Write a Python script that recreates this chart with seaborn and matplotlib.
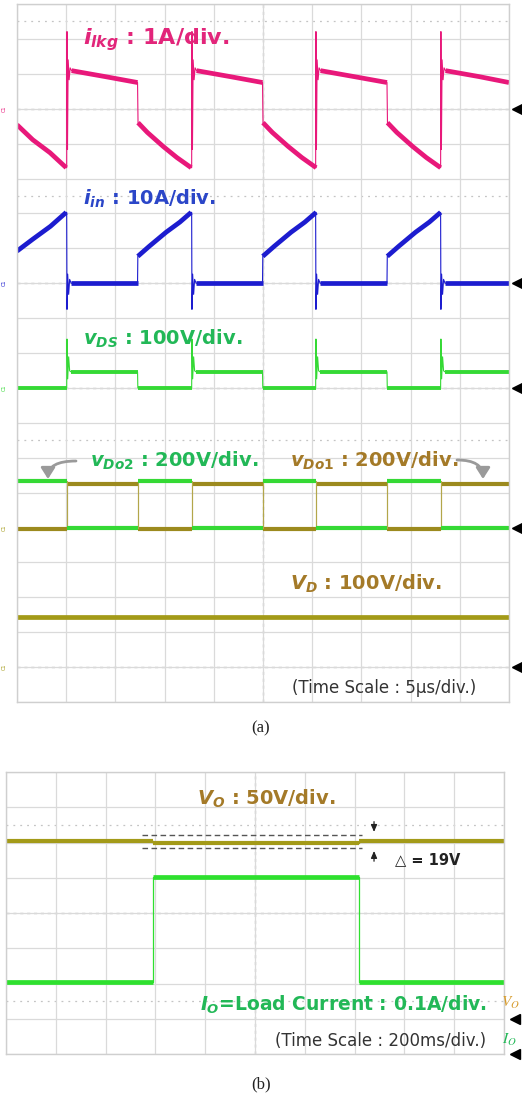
import matplotlib
matplotlib.use("Agg")
import matplotlib.pyplot as plt
import pandas as pd
import seaborn as sns

sns.set_theme(style="white")
plt.rcParams["font.family"] = ["DejaVu Sans"]
plt.rcParams["mathtext.fontset"] = "custom"
plt.rcParams["mathtext.it"] = "DejaVu Sans:italic:bold"
plt.rcParams["mathtext.rm"] = "DejaVu Sans:bold"
plt.rcParams["mathtext.bf"] = "DejaVu Sans:bold"

# ---------------- panel (a) data (5 us/div) ----------------
T_DIV_US = 5.0
T_END_US = 50.0
ZERO_A = {"ilkg": 17, "iin": 12, "vds": 9, "vdo": 5, "vd": 1}      # channel ground (div)
SCALE_A = {"ilkg": 1.0, "iin": 10.0, "vds": 100.0, "vdo": 200.0, "vd": 100.0}  # units/div

RISE_US = [5.05, 17.75, 30.35, 43.05]
FALL_US = [12.25, 24.95, 37.6]

# leakage current i_lkg (A)
ILKG_START_T = [0.0, 1.6, 3.35, 5.0]
ILKG_START_A = [-0.46, -0.89, -1.26, -1.69]
ILKG_SPIKE_DT = [0.0, 0.03, 0.08, 0.15, 0.25, 0.35, 0.5]
ILKG_SPIKE_A = [-1.69, 2.21, -1.17, 1.40, 0.83, 1.17, 1.09]
ILKG_HIGH_DT = [0.5, 3.9]
ILKG_HIGH_A = [1.09, 0.92, 0.75]
ILKG_LOW_DT = [0.05, 1.0, 2.6, 4.0, 5.45]
ILKG_LOW_A = [-0.40, -0.68, -1.08, -1.40, -1.69]

# input current i_in (A)
IIN_START_T = [0.0, 1.6, 3.4, 5.0]
IIN_START_A = [9.2, 12.6, 16.3, 20.3]
IIN_DROP_DT = [0.0, 0.03, 0.1, 0.2, 0.3, 0.45]
IIN_DROP_A = [20.3, -7.5, 2.6, -3.2, 1.1, 0.0]
IIN_RAMP_DT = [0.0, 0.03, 1.2, 2.9, 4.3, 5.45]
IIN_RAMP_A = [0.0, 7.7, 10.6, 14.6, 17.5, 20.3]

# switch voltage v_DS (V)
VDS_SPIKE_DT = [0.0, 0.03, 0.1, 0.2, 0.3, 0.45]
VDS_SPIKE_V = [0.0, 140.0, 26.0, 89.0, 49.0, 46.0]
VDS_HIGH_V = 46.0
VDS_LOW_V = 0.0

# output diode voltages (V)
VDO2_LEVELS_V = [264.0, 0.0]   # high, low (high first)
VDO1_LEVELS_V = [-8.0, 248.0]  # low first, then high
VD_V = 143.0

# ---------------- panel (b) data (200 ms/div) ----------------
T_DIV_MS = 200.0
T_END_MS = 2000.0
STEP_MS = [590.0, 1418.0]
VO_LEVELS_V = [252.5, 249.6, 252.5]
IO_LEVELS_A = [0.204, 0.502, 0.204]
VO_CURSOR_V = [261.0, 242.0]
VO_CURSOR_MS = [546.0, 1430.0]
DELTA_MS = 1478.0
ZERO_B = {"vo": 1, "io": 0}
SCALE_B = {"vo": 50.0, "io": 0.1}

# ---------------- colours ----------------
C_ILKG, T_ILKG = "#e8187a", "#e2257a"
C_IIN, T_IIN = "#1c1ccf", "#2b46c8"
C_GREEN, T_GREEN = "#35d935", "#22b857"
C_OLIVE = "#a39a18"
C_BROWN_TR = "#9c8a1e"
T_BROWN = "#a47a28"
GRID = "#dadada"

W, H = 522, 1097
fig = plt.figure(figsize=(W / 100, H / 100), dpi=100)
fig.patch.set_facecolor("white")


def P(x, y):
    return (x / W, 1 - y / H)


axA = fig.add_axes([17 / W, 1 - 702 / H, 492 / W, 698 / H])
axB = fig.add_axes([6 / W, 1 - 1054 / H, 498 / W, 282 / H])


def df_from(segs, zero, scale, tdiv):
    rows = []
    for k, (t, v) in enumerate(segs):
        for ti, vi in zip(t, v):
            rows.append((ti / tdiv, zero + vi / scale, k))
    return pd.DataFrame(rows, columns=["x", "y", "seg"])


def draw(ax, segs, zero, scale, tdiv, color, lw):
    d = df_from(segs, zero, scale, tdiv)
    sns.lineplot(data=d, x="x", y="y", units="seg", estimator=None, sort=False,
                 color=color, lw=lw, ax=ax, legend=False, solid_capstyle="butt")


def nxt_fall(i):
    return FALL_US[i] if i < len(FALL_US) else T_END_US


def nxt_rise(i):
    return RISE_US[i + 1] if i + 1 < len(RISE_US) else T_END_US


# ---- i_lkg ----
full_t, full_v = list(ILKG_START_T), list(ILKG_START_A)
band = [(ILKG_START_T, ILKG_START_A)]
for i, r in enumerate(RISE_US):
    st = [r + d for d in ILKG_SPIKE_DT]
    ht = [r + ILKG_HIGH_DT[0], r + ILKG_HIGH_DT[1], nxt_fall(i)]
    full_t += st + ht
    full_v += ILKG_SPIKE_A + ILKG_HIGH_A
    band.append((ht, ILKG_HIGH_A))
    if i < len(FALL_US):
        lt = [FALL_US[i] + d for d in ILKG_LOW_DT]
        full_t += lt
        full_v += ILKG_LOW_A
        band.append((lt, ILKG_LOW_A))
draw(axA, [(full_t, full_v)], ZERO_A["ilkg"], SCALE_A["ilkg"], T_DIV_US, C_ILKG, 0.8)
draw(axA, band, ZERO_A["ilkg"], SCALE_A["ilkg"], T_DIV_US, C_ILKG, 3.4)

# ---- i_in ----
full_t, full_v = list(IIN_START_T), list(IIN_START_A)
band = [(IIN_START_T, IIN_START_A)]
for i, r in enumerate(RISE_US):
    dt = [r + d for d in IIN_DROP_DT]
    bt = [r + IIN_DROP_DT[-1], nxt_fall(i)]
    full_t += dt + bt
    full_v += IIN_DROP_A + [0.0, 0.0]
    band.append((bt, [0.0, 0.0]))
    if i < len(FALL_US):
        rt = [FALL_US[i] + d for d in IIN_RAMP_DT]
        full_t += rt
        full_v += IIN_RAMP_A
        band.append((rt[1:], IIN_RAMP_A[1:]))
draw(axA, [(full_t, full_v)], ZERO_A["iin"], SCALE_A["iin"], T_DIV_US, C_IIN, 0.8)
draw(axA, band, ZERO_A["iin"], SCALE_A["iin"], T_DIV_US, C_IIN, 3.4)

# ---- v_DS ----
full_t, full_v = [0.0, RISE_US[0]], [VDS_LOW_V, VDS_LOW_V]
band = [([0.0, RISE_US[0]], [VDS_LOW_V, VDS_LOW_V])]
for i, r in enumerate(RISE_US):
    stt = [r + d for d in VDS_SPIKE_DT]
    ht = [r + VDS_SPIKE_DT[-1], nxt_fall(i)]
    full_t += stt + ht
    full_v += VDS_SPIKE_V + [VDS_HIGH_V, VDS_HIGH_V]
    band.append((ht, [VDS_HIGH_V, VDS_HIGH_V]))
    if i < len(FALL_US):
        lt = [FALL_US[i] + 0.03, nxt_rise(i)]
        full_t += lt
        full_v += [VDS_LOW_V, VDS_LOW_V]
        band.append((lt, [VDS_LOW_V, VDS_LOW_V]))
draw(axA, [(full_t, full_v)], ZERO_A["vds"], SCALE_A["vds"], T_DIV_US, C_GREEN, 0.8)
draw(axA, band, ZERO_A["vds"], SCALE_A["vds"], T_DIV_US, C_GREEN, 2.8)

# ---- v_Do1 / v_Do2 ----
EDGES_US = sorted(RISE_US + FALL_US)
bounds = [0.0] + EDGES_US + [T_END_US]


def step_trace(levels):
    full_t, full_v, band = [], [], []
    for j in range(len(bounds) - 1):
        lv = levels[j % 2]
        seg_t = [bounds[j], bounds[j + 1]]
        full_t += seg_t
        full_v += [lv, lv]
        band.append((seg_t, [lv, lv]))
    return full_t, full_v, band


for levels, col in [(VDO1_LEVELS_V, C_BROWN_TR), (VDO2_LEVELS_V, C_GREEN)]:
    ft, fv, bd = step_trace(levels)
    draw(axA, [(ft, fv)], ZERO_A["vdo"], SCALE_A["vdo"], T_DIV_US, "#b3a64a", 0.8)
    draw(axA, bd, ZERO_A["vdo"], SCALE_A["vdo"], T_DIV_US, col, 3.0)

# ---- V_D ----
draw(axA, [([0.0, T_END_US], [VD_V, VD_V])], ZERO_A["vd"], SCALE_A["vd"], T_DIV_US, C_OLIVE, 3.4)

# ---- panel (b) traces ----
b_bounds = [0.0] + STEP_MS + [T_END_MS]
vo_full_t, vo_full_v, vo_band = [], [], []
io_full_t, io_full_v, io_band = [], [], []
for j in range(3):
    st = [b_bounds[j], b_bounds[j + 1]]
    vo_full_t += st; vo_full_v += [VO_LEVELS_V[j]] * 2
    io_full_t += st; io_full_v += [IO_LEVELS_A[j]] * 2
    vo_band.append((st, [VO_LEVELS_V[j]] * 2))
    io_band.append((st, [IO_LEVELS_A[j]] * 2))
draw(axB, [(vo_full_t, vo_full_v)], ZERO_B["vo"], SCALE_B["vo"], T_DIV_MS, C_OLIVE, 1.0)
draw(axB, vo_band, ZERO_B["vo"], SCALE_B["vo"], T_DIV_MS, C_OLIVE, 3.0)
draw(axB, [(io_full_t, io_full_v)], ZERO_B["io"], SCALE_B["io"], T_DIV_MS, "#2ee02e", 0.9)
draw(axB, io_band, ZERO_B["io"], SCALE_B["io"], T_DIV_MS, "#2ee02e", 3.4)

# cursors
for v in VO_CURSOR_V:
    axB.hlines(ZERO_B["vo"] + v / SCALE_B["vo"], VO_CURSOR_MS[0] / T_DIV_MS, VO_CURSOR_MS[1] / T_DIV_MS,
               color="#555555", lw=1.0, linestyles=(0, (4, 2.5)), zorder=5)
xa = DELTA_MS / T_DIV_MS
y_hi = ZERO_B["vo"] + VO_CURSOR_V[0] / SCALE_B["vo"]
y_lo = ZERO_B["vo"] + VO_CURSOR_V[1] / SCALE_B["vo"]
axB.annotate("", xy=(xa, y_hi), xytext=(xa, y_hi + 0.45),
             arrowprops=dict(arrowstyle="-|>,head_length=0.35,head_width=0.15", color="#222222", lw=0.9))
axB.annotate("", xy=(xa, y_lo), xytext=(xa, y_lo - 0.45),
             arrowprops=dict(arrowstyle="-|>,head_length=0.35,head_width=0.15", color="#222222", lw=0.9))


# ---------------- grids / frames ----------------
def style_axes(ax, nx, ny, zeros, dotted):
    ax.set_xlim(0, nx)
    ax.set_ylim(0, ny)
    ax.set_xlabel("")
    ax.set_ylabel("")
    ax.set_xticks(range(nx + 1))
    ax.set_yticks(range(ny + 1))
    ax.tick_params(left=False, bottom=False, labelleft=False, labelbottom=False)
    ax.grid(True, color=GRID, lw=0.9, zorder=0)
    ax.set_axisbelow(True)
    for s in ax.spines.values():
        s.set_color("#cfcfcf")
        s.set_linewidth(1.0)
    for z in zeros:
        ax.axhline(z, color="#9a9a9a", lw=0.9, ls=(0, (2.5, 3)), zorder=0.5)
    for z in dotted:
        ax.axhline(z, color="#c4c4c4", lw=0.9, ls=(0, (1.5, 4)), zorder=0.5)
    ax.axvline(nx / 2, color="#9a9a9a", lw=0.9, ls=(0, (2.5, 3)), zorder=0.5)


style_axes(axA, 10, 20, list(ZERO_A.values()), [19.5, 14.5, 7.5])
style_axes(axB, 10, 8, [4], [6.5, 1.5])

# ground markers
axA.plot([10.16] * 5, list(ZERO_A.values()), marker="<", ls="none", color="black", ms=7.5, clip_on=False)
axB.plot([10.22] * 2, [ZERO_B["vo"], ZERO_B["io"]], marker="<", ls="none", color="black", ms=7.5, clip_on=False)
for (ch, col) in [("ilkg", C_ILKG), ("iin", C_IIN), ("vds", C_GREEN), ("vdo", C_OLIVE), ("vd", C_OLIVE)]:
    axA.text(-0.25, ZERO_A[ch], "C1", rotation=90, fontsize=3.5, color=col, ha="center", va="center",
             clip_on=False)

# ---------------- labels ----------------
def lab(x, y, s, color, size=14, weight="bold", **kw):
    fig.text(*P(x, y), s, color=color, fontsize=size, fontweight=weight, ha="left", va="baseline", **kw)


lab(83, 44, r"$i_{lkg}$ : 1A/div.", T_ILKG, size=16)
lab(83, 205, r"$i_{in}$ : 10A/div.", T_IIN)
lab(83, 345, r"$v_{DS}$ : 100V/div.", T_GREEN)
lab(90, 467, r"$v_{Do2}$ : 200V/div.", T_GREEN)
lab(290, 467, r"$v_{Do1}$ : 200V/div.", T_BROWN)
lab(290, 590, r"$V_D$ : 100V/div.", T_BROWN)
lab(292, 693, "(Time Scale : 5μs/div.)", "#333333", size=12, weight="normal")
fig.text(*P(261, 732), "(a)", fontsize=12, family="Liberation Serif", ha="center", va="baseline", color="#222222")

# gray arrows
arrow_kw = dict(arrowstyle="-|>,head_length=0.55,head_width=0.35", color="#9a9a9a", lw=2.0, shrinkA=0, shrinkB=0)
fig.add_artist(matplotlib.patches.FancyArrowPatch(P(76, 461), P(48, 479), transform=fig.transFigure,
                                                  connectionstyle="angle3,angleA=180,angleB=90",
                                                  mutation_scale=12, **arrow_kw))
fig.add_artist(matplotlib.patches.FancyArrowPatch(P(457, 460), P(483, 479), transform=fig.transFigure,
                                                  connectionstyle="angle3,angleA=0,angleB=90",
                                                  mutation_scale=12, **arrow_kw))

lab(197, 805, r"$V_O$ : 50V/div.", T_BROWN)
lab(395, 864, "△ = 19V", "#222222", size=10.5)
lab(200, 1011, r"$I_O$=Load Current : 0.1A/div.", T_GREEN, size=13.5)
lab(275, 1046, "(Time Scale : 200ms/div.)", "#333333", size=12, weight="normal")
lab(501, 1007, r"$V_O$", "#d69a2a", size=11, weight="normal", math_fontfamily="stix")
lab(502, 1044, r"$I_O$", "#22b857", size=11, weight="normal", math_fontfamily="stix")
fig.text(*P(261, 1088), "(b)", fontsize=12, family="Liberation Serif", ha="center", va="baseline", color="#222222")

fig.savefig("out.png", dpi=100, facecolor="white")
